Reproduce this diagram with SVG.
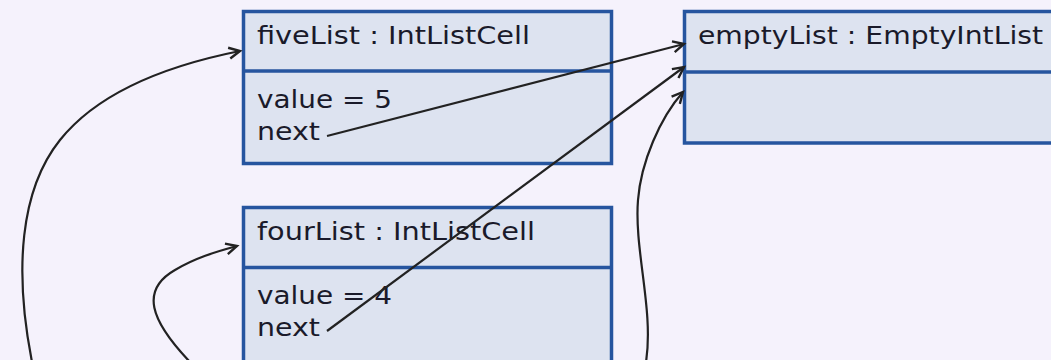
<svg xmlns="http://www.w3.org/2000/svg" width="1051" height="360" viewBox="0 0 1051 360">
  <style>
    .box { fill: #dde3f0; stroke: #26559f; stroke-width: 3.5; }
    .sep { stroke: #26559f; stroke-width: 3.5; }
    .lbl { font-family: "DejaVu Sans", Verdana, sans-serif; font-size: 25px; fill: #1a1a2a; }
    .link { fill: none; stroke: #222; stroke-width: 2.2; }
  </style>
  <defs>
    <marker id="arrow" markerUnits="userSpaceOnUse" markerWidth="16" markerHeight="16" refX="13" refY="7" orient="auto">
      <path d="M2,1.5 L13,7 L2,12.5" fill="none" stroke="#222" stroke-width="2.4" stroke-linejoin="miter"/>
    </marker>
  </defs>
  <rect width="1051" height="360" fill="#f5f2fc"/>

  <g id="fiveList">
    <rect class="box" x="243.5" y="11.5" width="368" height="152"/>
    <line class="sep" x1="243.5" y1="71" x2="611.5" y2="71"/>
    <text class="lbl" x="257" y="44" textLength="273" lengthAdjust="spacingAndGlyphs">fiveList : IntListCell</text>
    <text class="lbl" x="257" y="108" textLength="135" lengthAdjust="spacingAndGlyphs">value = 5</text>
    <text class="lbl" x="257" y="140" textLength="63" lengthAdjust="spacingAndGlyphs">next</text>
  </g>

  <g id="emptyList">
    <rect class="box" x="684.5" y="11.5" width="400" height="131.5"/>
    <line class="sep" x1="684.5" y1="72" x2="1084.5" y2="72"/>
    <text class="lbl" x="698" y="44" textLength="345" lengthAdjust="spacingAndGlyphs">emptyList : EmptyIntList</text>
  </g>

  <g id="fourList">
    <rect class="box" x="243.5" y="207.5" width="368" height="170"/>
    <line class="sep" x1="243.5" y1="267.5" x2="611.5" y2="267.5"/>
    <text class="lbl" x="257" y="240" textLength="278" lengthAdjust="spacingAndGlyphs">fourList : IntListCell</text>
    <text class="lbl" x="257" y="304" textLength="135" lengthAdjust="spacingAndGlyphs">value = 4</text>
    <text class="lbl" x="257" y="336" textLength="63" lengthAdjust="spacingAndGlyphs">next</text>
  </g>

  <g id="connectors">
    <!-- fiveList.next -> emptyList -->
    <path class="link" d="M327,136 L684,44" marker-end="url(#arrow)"/>
    <!-- fourList.next -> emptyList -->
    <path class="link" d="M327,331 L684,67" marker-end="url(#arrow)"/>
    <!-- incoming reference to emptyList from below -->
    <path class="link" d="M646,362 C654,310 634,250 638,200 C641,162 660,118 683,92" marker-end="url(#arrow)"/>
    <!-- incoming reference to fiveList from below -->
    <path class="link" d="M32,362 C14,270 20,190 60,140 C100,90 170,65 240,51" marker-end="url(#arrow)"/>
    <!-- incoming reference to fourList from below -->
    <path class="link" d="M190,362 C150,320 140,290 175,270 C195,258 215,252 237,246" marker-end="url(#arrow)"/>
  </g>
</svg>
